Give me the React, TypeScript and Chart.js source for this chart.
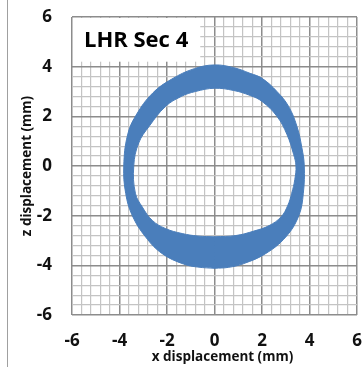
import React, { useEffect, useRef } from "react";
import { Chart, registerables } from "chart.js";

Chart.register(...registerables);

// Outer edge of the orbit band (mm), traced from the bottom: left side, top, right side
const outerX = [0.0, -0.7, -1.3, -2.2, -2.9, -3.46, -3.74, -3.82, -3.66, -3.3, -2.6, -1.8, -0.85, 0.0, 0.81, 1.5, 2.0, 2.63, 3.12, 3.47, 3.68, 3.78, 3.74, 3.55, 3.0, 2.15, 1.23, 0.6];
const outerZ = [-4.12, -4.07, -3.95, -3.53, -2.86, -2.0, -1.1, 0.0, 1.25, 2.05, 2.94, 3.5, 3.92, 4.07, 3.96, 3.73, 3.53, 3.0, 2.4, 1.6, 0.73, 0.0, -1.1, -2.0, -2.86, -3.53, -3.93, -4.08];

// Inner edge of the orbit band (mm), traced the opposite way from the bottom: right side, top, left side
const innerX = [0.0, 0.9, 1.66, 2.3, 2.8, 3.08, 3.25, 3.38, 3.43, 3.33, 3.05, 2.63, 2.0, 1.5, 0.81, 0.0, -0.8, -1.4, -2.06, -2.75, -3.19, -3.4, -3.33, -3.04, -2.62, -2.06, -1.36, -0.7];
const innerZ = [-2.85, -2.8, -2.62, -2.4, -2.05, -1.6, -1.1, -0.55, 0.0, 0.47, 1.27, 2.0, 2.6, 2.84, 3.04, 3.13, 3.0, 2.8, 2.4, 1.6, 0.93, 0.0, -1.1, -1.65, -2.19, -2.52, -2.72, -2.82];

// Thin gap between passes in the lower part of the band
const seamX = [-1.78, -1.0, -0.17, 0.8, 1.52];
const seamZ = [-3.06, -3.3, -3.39, -3.36, -3.26];

const AXIS_MIN = -6;
const AXIS_MAX = 6;
const MINOR_STEP = 0.4;
const MAJOR_TICKS = [-6, -4, -2, 0, 2, 4, 6];

const SERIES_LABEL = "LHR Sec 4";
const X_TITLE = "x displacement (mm)";
const Z_TITLE = "z displacement (mm)";

const BLUE = "#4a7ebb";
const MAJOR_GRID = "#8c8c8c";
const MINOR_GRID = "#c4c4c4";
const TEXT = "#111111";

const isMajor = (v: number) => MAJOR_TICKS.some((m) => Math.abs(m - v) < 1e-6);

const toPoints = (xs: number[], zs: number[]) => xs.map((x, i) => ({ x, y: zs[i] }));

// One path: outer ring, a straight hop to the inner ring, inner ring the other way round.
// Doubled points at the hop keep the spline from bulging there.
const bandPath = () => {
  const o = toPoints(outerX, outerZ);
  const i = toPoints(innerX, innerZ);
  return [...o, o[0], o[0], i[0], ...i, i[0]];
};

const decorations = {
  id: "decorations",
  afterDatasetsDraw(chart: any) {
    const { ctx, chartArea, scales } = chart;
    const left = chartArea.left;
    const top = chartArea.top;
    const right = scales.x.getPixelForValue(-0.6);
    const bottom = scales.y.getPixelForValue(4.2);
    ctx.save();
    ctx.fillStyle = "#ffffff";
    ctx.fillRect(left + 1, top + 1, right - left - 1, bottom - top - 1);
    ctx.fillStyle = "#000000";
    ctx.font = "bold 22px 'Open Sans'";
    ctx.textBaseline = "middle";
    ctx.textAlign = "left";
    ctx.fillText(SERIES_LABEL, left + 12, (top + bottom) / 2 + 1);

    // axis titles
    ctx.fillStyle = TEXT;
    ctx.font = "bold 13.5px 'Open Sans'";
    ctx.textAlign = "center";
    ctx.fillText(X_TITLE, (chartArea.left + chartArea.right) / 2 + 8, 357);
    ctx.translate(27, (chartArea.top + chartArea.bottom) / 2);
    ctx.rotate(-Math.PI / 2);
    ctx.fillText(Z_TITLE, 0, 0);
    ctx.restore();
  },
};

export default function App() {
  const canvasRef = useRef<HTMLCanvasElement | null>(null);

  useEffect(() => {
    const canvas = canvasRef.current;
    if (!canvas) return;

    const tickFont = { family: "'Open Sans'", size: 17, weight: "bold" as const };
    const gridColor = (c: any) => (c.tick && isMajor(c.tick.value) ? MAJOR_GRID : MINOR_GRID);
    const gridWidth = (c: any) => (c.tick && isMajor(c.tick.value) ? 1.5 : 1.2);
    const tickLabel = (v: any) => (isMajor(Number(v)) ? String(Math.round(Number(v))) : "");

    const chart = new Chart(canvas, {
      type: "scatter",
      data: {
        datasets: [
          {
            data: bandPath(),
            showLine: true,
            fill: "shape",
            backgroundColor: BLUE,
            borderColor: BLUE,
            borderWidth: 1,
            pointRadius: 0,
            tension: 0.4,
          },
          {
            data: toPoints(seamX, seamZ),
            showLine: true,
            fill: false,
            borderColor: "rgba(255,255,255,0.7)",
            borderWidth: 1,
            pointRadius: 0,
            tension: 0.4,
          },
        ],
      },
      options: {
        animation: false,
        responsive: false,
        events: [],
        layout: { padding: { top: 17, right: 6, left: 0, bottom: 0 } },
        plugins: { legend: { display: false }, tooltip: { enabled: false } },
        scales: {
          x: {
            type: "linear",
            min: AXIS_MIN,
            max: AXIS_MAX,
            ticks: {
              stepSize: MINOR_STEP,
              maxTicksLimit: 100,
              autoSkip: false,
              maxRotation: 0,
              padding: 16,
              color: TEXT,
              font: tickFont,
              callback: tickLabel,
            },
            grid: { color: gridColor, lineWidth: gridWidth, drawTicks: false },
            border: { display: false },
            afterFit: (s: any) => {
              s.height = 52;
              s.paddingLeft = 0;
              s.paddingRight = 0;
            },
          },
          y: {
            type: "linear",
            min: AXIS_MIN,
            max: AXIS_MAX,
            ticks: {
              stepSize: MINOR_STEP,
              maxTicksLimit: 100,
              autoSkip: false,
              padding: 20,
              color: TEXT,
              font: tickFont,
              callback: tickLabel,
            },
            grid: { color: gridColor, lineWidth: gridWidth, drawTicks: false },
            border: { display: false },
            afterFit: (s: any) => {
              s.width = 72;
              s.paddingTop = 0;
              s.paddingBottom = 0;
            },
          },
        },
      },
      plugins: [decorations],
    });

    return () => chart.destroy();
  }, []);

  return (
    <div style={{ position: "fixed", left: 0, top: 0, width: 363, height: 367, background: "#fff" }}>
      <div style={{ position: "absolute", left: 7, top: 0, width: 1, height: 367, background: "#a0a0a0" }} />
      <canvas ref={canvasRef} width={363} height={367} style={{ position: "absolute", left: 0, top: 0, width: 363, height: 367 }} />
    </div>
  );
}
